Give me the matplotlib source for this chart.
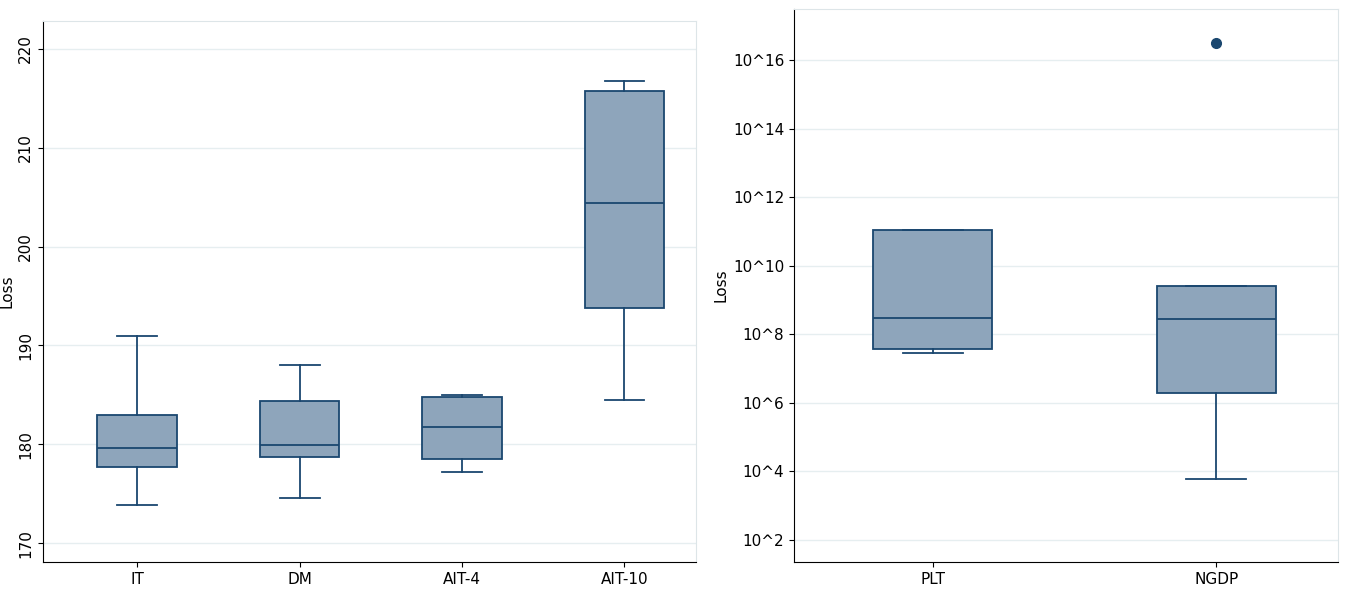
import matplotlib.pyplot as plt

# left panel (linear)
left_labels = ['IT', 'DM', 'AIT-4', 'AIT-10']
left_wlo = [173.9, 174.6, 177.2, 184.5]
left_q1 = [177.7, 178.7, 178.5, 193.8]
left_med = [179.6, 179.9, 181.8, 204.4]
left_q3 = [183.0, 184.4, 184.8, 215.7]
left_whi = [191.0, 188.0, 185.0, 216.7]

# right panel (log10 of loss)
right_labels = ['PLT', 'NGDP']
right_wlo = [7.46, 3.77]
right_q1 = [7.58, 6.28]
right_med = [8.49, 8.46]
right_q3 = [11.06, 9.40]
right_whi = [11.06, 9.40]
right_out = [[], [16.5]]

edge = '#1a476f'
fill = '#8ea5bb'

def stats(lbl, lo, q1, med, q3, hi, fl=None):
    out = []
    for i in range(len(lbl)):
        out.append(dict(label=lbl[i], whislo=lo[i], q1=q1[i], med=med[i], q3=q3[i], whishi=hi[i],
                        fliers=fl[i] if fl else []))
    return out

fig = plt.figure(figsize=(13.46, 5.95), dpi=100)
ax1 = fig.add_axes([0.032, 0.055, 0.485, 0.91])
ax2 = fig.add_axes([0.59, 0.055, 0.404, 0.93])

def kw(w):
    return dict(patch_artist=True, widths=w,
                boxprops=dict(facecolor=fill, edgecolor=edge, linewidth=1.3),
                medianprops=dict(color=edge, linewidth=1.3),
                whiskerprops=dict(color=edge, linewidth=1.3),
                capprops=dict(color=edge, linewidth=1.3),
                flierprops=dict(marker='o', markerfacecolor=edge, markeredgecolor=edge, markersize=7))
ax1.bxp(stats(left_labels, left_wlo, left_q1, left_med, left_q3, left_whi), **kw(0.49))
ax2.bxp(stats(right_labels, right_wlo, right_q1, right_med, right_q3, right_whi, right_out), **kw(0.42))

ax1.set_xlim(0.42, 4.44)
ax1.set_ylim(168.1, 222.8)
ax1.set_yticks([170, 180, 190, 200, 210, 220])
for t in ax1.get_yticklabels():
    t.set_rotation(90)
    t.set_va('center')
ax1.set_ylabel('Loss', fontsize=11, labelpad=3)

ax2.set_ylim(1.35, 17.5)
ax2.set_xlim(0.51, 2.43)
ticks = [2, 4, 6, 8, 10, 12, 14, 16]
ax2.set_yticks(ticks)
ax2.set_yticklabels(['10^%d' % t for t in ticks])
ax2.set_ylabel('Loss', fontsize=11, labelpad=3)

for ax in (ax1, ax2):
    ax.grid(axis='y', color='#e6eef0', linewidth=1)
    ax.set_axisbelow(True)
    ax.tick_params(labelsize=11, color='black')
    for s in ['top', 'right']:
        ax.spines[s].set_color('#dde5e8')
    ax.spines['left'].set_color('black')
    ax.spines['bottom'].set_color('black')

fig.savefig('out.png')
